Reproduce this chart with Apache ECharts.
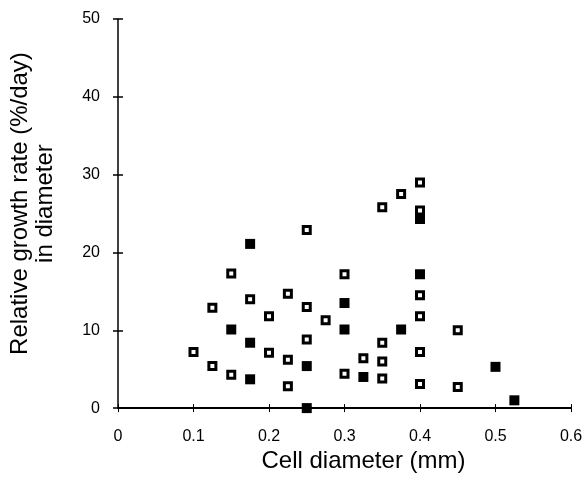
<!DOCTYPE html>
<html>
<head>
<meta charset="utf-8">
<script src="https://cdn.jsdelivr.net/npm/echarts@6/dist/echarts.min.js"></script>
<style>html,body{margin:0;padding:0;background:#fff;}#c{width:588px;height:478px;}</style>
</head>
<body>
<div id="c"></div>
<script>
// Open squares
var openX = [0.1, 0.125, 0.125, 0.15, 0.15, 0.175, 0.2, 0.2, 0.225, 0.225, 0.225, 0.25, 0.25, 0.25, 0.275, 0.3, 0.3, 0.325, 0.35, 0.35, 0.35, 0.35, 0.375, 0.4, 0.4, 0.4, 0.4, 0.4, 0.4, 0.45, 0.45];
var openY = [7.2, 12.9, 5.4, 17.3, 4.3, 14.0, 11.8, 7.1, 14.7, 6.2, 2.8, 22.9, 13.0, 8.8, 11.3, 17.2, 4.4, 6.4, 25.8, 8.4, 6.0, 3.8, 27.5, 29.0, 25.4, 14.5, 11.8, 7.2, 3.1, 10.0, 2.7];
// Filled squares
var filledX = [0.15, 0.175, 0.175, 0.175, 0.25, 0.25, 0.3, 0.3, 0.325, 0.375, 0.4, 0.4, 0.5, 0.525];
var filledY = [10.1, 21.1, 8.4, 3.7, 5.4, 0, 13.5, 10.1, 4.0, 10.1, 24.3, 17.2, 5.3, 1.0];
var xTicks = [0, 0.1, 0.2, 0.3, 0.4, 0.5, 0.6];
var yTicks = [0, 10, 20, 30, 40, 50];
var xName = 'Cell diameter (mm)';
var yName = 'Relative growth rate (%/day)\nin diameter';

function pairs(xs, ys) { return xs.map(function (x, i) { return [x, ys[i]]; }); }

var font = 'Liberation Sans, Arial, sans-serif';
var chart = echarts.init(document.getElementById('c'), null, {renderer: 'canvas'});
chart.setOption({
  animation: false,
  backgroundColor: '#fff',
  grid: {left: 117, right: 17, top: 19, bottom: 68},
  xAxis: [{
    type: 'value', min: xTicks[0], max: xTicks[xTicks.length - 1], interval: 0.1,
    position: 'bottom',
    name: xName, nameLocation: 'middle', nameGap: 36,
    nameTextStyle: {fontFamily: font, fontSize: 24, color: '#000', padding: [0, 0, 0, 38]},
    axisLine: {show: true, onZero: false, lineStyle: {color: '#000', width: 2}},
    axisTick: {show: true, length: 4, lineStyle: {color: '#000', width: 1}},
    axisLabel: {fontFamily: font, fontSize: 16, color: '#000', margin: 20,
      formatter: function (v) { return String(+v.toFixed(1)); }},
    splitLine: {show: false}
  }, {
    type: 'value', min: xTicks[0], max: xTicks[xTicks.length - 1], interval: 0.1,
    position: 'bottom',
    axisLine: {show: false},
    axisTick: {show: true, inside: true, length: 4, lineStyle: {color: '#000', width: 1}},
    axisLabel: {show: false},
    splitLine: {show: false}
  }],
  yAxis: [{
    type: 'value', min: yTicks[0], max: yTicks[yTicks.length - 1], interval: 10,
    position: 'left',
    name: yName, nameLocation: 'middle', nameGap: 60, nameRotate: 90,
    nameTextStyle: {fontFamily: font, fontSize: 24, color: '#000', lineHeight: 25, align: 'center', padding: [0, 0, 0, 20]},
    axisLine: {show: true, onZero: false, lineStyle: {color: '#000', width: 1.5}},
    axisTick: {show: true, length: 5, lineStyle: {color: '#000', width: 1.5}},
    axisLabel: {fontFamily: font, fontSize: 16, color: '#000', margin: 18},
    splitLine: {show: false}
  }, {
    type: 'value', min: yTicks[0], max: yTicks[yTicks.length - 1], interval: 10,
    position: 'left',
    axisLine: {show: false},
    axisTick: {show: true, inside: true, length: 5, lineStyle: {color: '#000', width: 1.5}},
    axisLabel: {show: false},
    splitLine: {show: false}
  }],
  series: [{
    type: 'scatter', xAxisIndex: 0, yAxisIndex: 0, clip: false,
    symbol: 'rect', symbolSize: 10,
    itemStyle: {color: '#000', opacity: 1},
    data: pairs(filledX, filledY), z: 3
  }, {
    type: 'scatter', xAxisIndex: 0, yAxisIndex: 0, clip: false,
    symbol: 'rect', symbolSize: 7,
    itemStyle: {color: '#fff', borderColor: '#000', borderWidth: 3, opacity: 1},
    data: pairs(openX, openY), z: 4
  }]
});
</script>
</body>
</html>
